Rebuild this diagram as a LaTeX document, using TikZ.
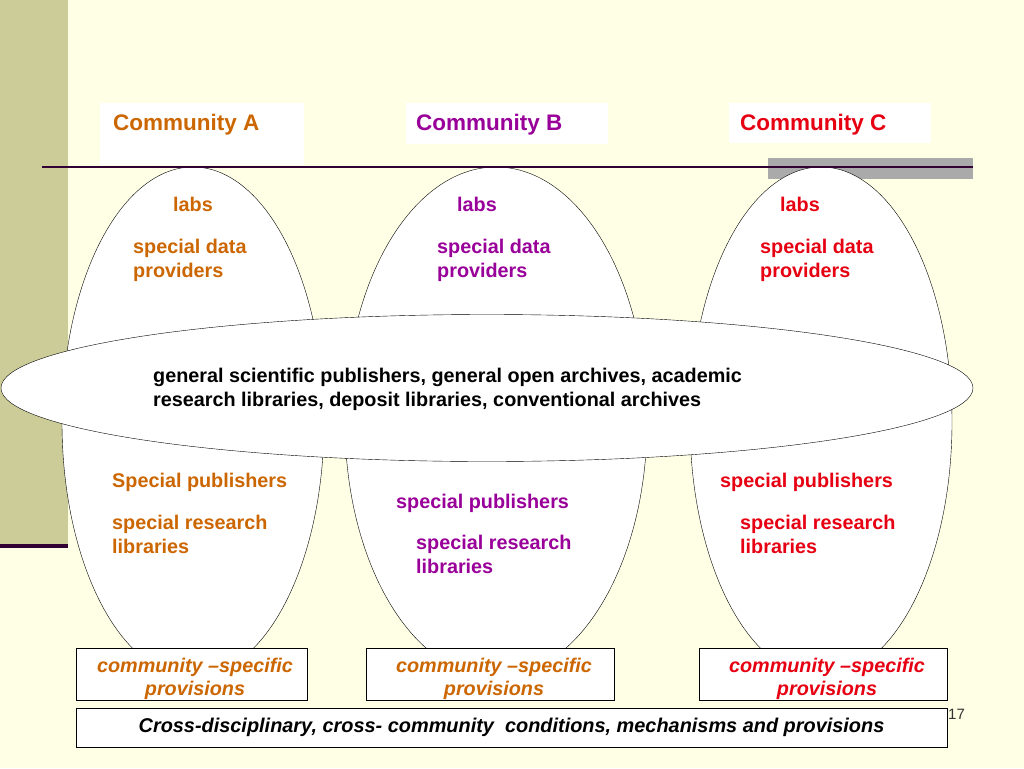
\documentclass[tikz,border=0pt]{standalone}
\usepackage{fontspec}
\setmainfont{Liberation Sans}
\definecolor{bgyellow}{RGB}{255,255,229}
\definecolor{stripcol}{RGB}{204,204,153}
\definecolor{rulecol}{RGB}{51,0,51}
\definecolor{barcol}{RGB}{170,170,170}
\definecolor{comAcol}{RGB}{204,102,0}
\definecolor{comBcol}{RGB}{153,0,153}
\definecolor{comCcol}{RGB}{230,0,18}

\begin{document}
\begin{tikzpicture}[x=1pt, y=-1pt,
  font=\fontsize{19.8}{23.5}\selectfont\bfseries,
  itemtxt/.style={anchor=base west, inner sep=0pt, align=left},
  commlabel/.style={anchor=base west, inner sep=0pt, font=\fontsize{22.5}{27}\selectfont\bfseries},
  provbox/.style={draw=black, fill=white, thin, inner sep=0pt},
  provtxt/.style={anchor=base, inner sep=0pt, align=center, font=\fontsize{19.8}{23}\selectfont\bfseries\itshape},
  bubble/.style={draw=black, fill=white, thin}]

% ---- page background ----
\useasboundingbox (0,0) rectangle (1024,768);
\fill[bgyellow] (0,0) rectangle (1024,768);
\fill[stripcol] (0,0) rectangle (68,544);
\fill[rulecol] (0,544) rectangle (68,548);

% ---- community headers ----
\fill[white] (100,103) rectangle (304,165);
\fill[white] (406,103) rectangle (608,144);
\fill[white] (729,103) rectangle (931,143);
\node[commlabel, text=comAcol] (headA) at (113,130) {Community A};
\node[commlabel, text=comBcol] (headB) at (416,130) {Community B};
\node[commlabel, text=comCcol] (headC) at (740,130) {Community C};

% gray bar behind the rule on the right
\fill[barcol] (768,158) rectangle (973,179);

% ---- community bubbles (x centre 193 / 496 / 821) ----
\draw[bubble] (193,422) ellipse [x radius=131pt, y radius=255pt];
\draw[bubble] (496,422) ellipse [x radius=151pt, y radius=255pt];
\draw[bubble] (821,422) ellipse [x radius=131pt, y radius=255pt];

% top rule
\draw[rulecol, line width=2pt] (42,167) -- (973,167);

% ---- shared layer across all communities ----
\draw[bubble] (487,388) ellipse [x radius=486pt, y radius=73.5pt];
% (base anchor = last line)
\node[itemtxt] (general) at (153,406)
  {general scientific publishers, general open archives, academic\\
   research libraries, deposit libraries, conventional archives};

% ---- Community A ----
\node[itemtxt, text=comAcol] (labsA) at (173,211) {labs};
\node[itemtxt, text=comAcol] (dataA) at (133,277) {special data\\providers};
\node[itemtxt, text=comAcol] (pubA) at (112,487) {Special publishers};
\node[itemtxt, text=comAcol] (libA) at (112,553) {special research\\libraries};

% ---- Community B ----
\node[itemtxt, text=comBcol] (labsB) at (457,211) {labs};
\node[itemtxt, text=comBcol] (dataB) at (437,277) {special data\\providers};
\node[itemtxt, text=comBcol] (pubB) at (396,508) {special publishers};
\node[itemtxt, text=comBcol] (libB) at (416,573) {special research\\libraries};

% ---- Community C ----
\node[itemtxt, text=comCcol] (labsC) at (780,211) {labs};
\node[itemtxt, text=comCcol] (dataC) at (760,277) {special data\\providers};
\node[itemtxt, text=comCcol] (pubC) at (720,487) {special publishers};
\node[itemtxt, text=comCcol] (libC) at (740,553) {special research\\libraries};

% ---- community-specific provisions ----
\node[provbox, minimum width=231pt, minimum height=52pt] (provA) at (191.5,674) {};
\node[provbox, minimum width=248pt, minimum height=52pt] (provB) at (490,674) {};
\node[provbox, minimum width=248pt, minimum height=52pt] (provC) at (823,674) {};
\node[provtxt, text=comAcol] (provAtxt) at (195,695) {community \textendash specific\\provisions};
\node[provtxt, text=comAcol] (provBtxt) at (494,695) {community \textendash specific\\provisions};
\node[provtxt, text=comCcol] (provCtxt) at (827,695) {community \textendash specific\\provisions};

% ---- cross-community base ----
\node[provbox, minimum width=871pt, minimum height=39pt,
      font=\fontsize{19.9}{23.5}\selectfont\bfseries\itshape] (crossbox) at (511.5,727.5)
  {Cross-disciplinary, cross- community~ conditions, mechanisms and provisions};

% slide number
\node[anchor=base west, inner sep=0pt, text=black!80, font=\fontsize{15}{18}\selectfont\mdseries] (slideno) at (948,719) {17};

\end{tikzpicture}
\end{document}
